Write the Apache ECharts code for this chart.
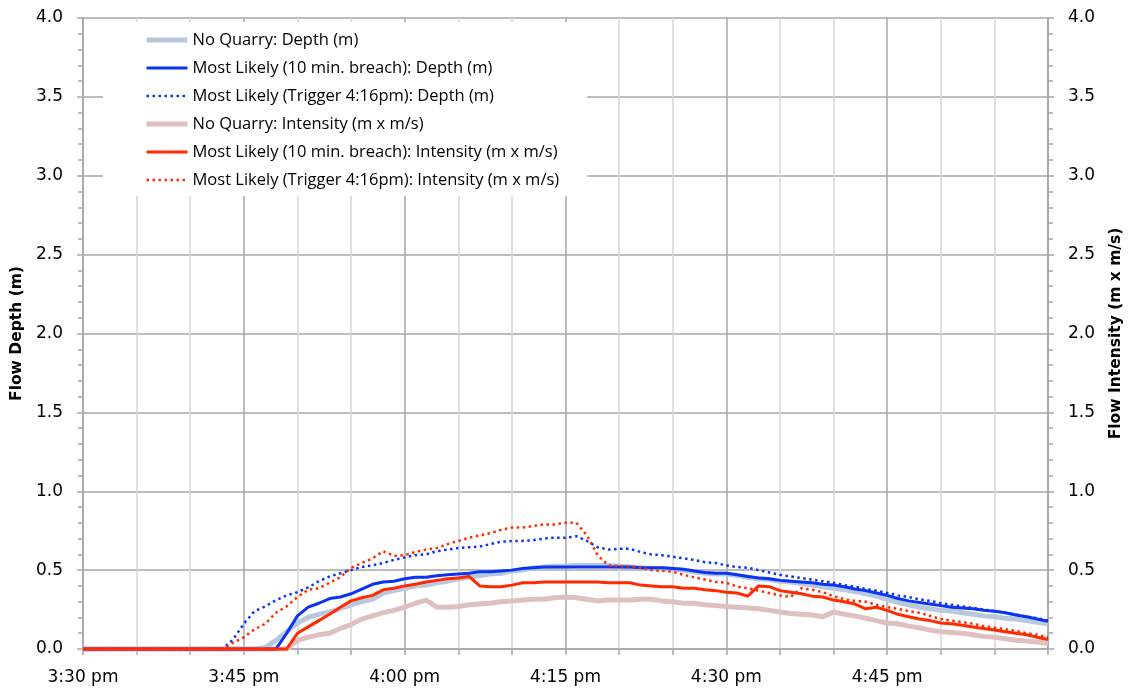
<!DOCTYPE html>
<html>
<head>
<meta charset="utf-8">
<script src="https://cdn.jsdelivr.net/npm/echarts@6/dist/echarts.min.js"></script>
<style>
  html, body { margin: 0; padding: 0; background: #ffffff; }
  #chart { width: 1132px; height: 690px; }
</style>
</head>
<body>
<div id="chart"></div>
<script>
// Minutes after 3:30 pm, one sample per minute
const minutes = [
  0, 1, 2, 3, 4, 5, 6, 7, 8, 9, 10, 11, 12, 13, 14, 15, 16, 17, 18, 19,
  20, 21, 22, 23, 24, 25, 26, 27, 28, 29, 30, 31, 32, 33, 34, 35, 36, 37, 38, 39,
  40, 41, 42, 43, 44, 45, 46, 47, 48, 49, 50, 51, 52, 53, 54, 55, 56, 57, 58, 59,
  60, 61, 62, 63, 64, 65, 66, 67, 68, 69, 70, 71, 72, 73, 74, 75, 76, 77, 78, 79,
  80, 81, 82, 83, 84, 85, 86, 87, 88, 89, 90
];

// Tick labels every 15 minutes (the 5:00 pm end tick carries no label)
const timeTicks = [0, 15, 30, 45, 60, 75, 90];
const timeLabels = ['3:30 pm', '3:45 pm', '4:00 pm', '4:15 pm', '4:30 pm', '4:45 pm', ''];

const seriesNames = [
  'No Quarry: Depth (m)',
  'Most Likely (10 min. breach): Depth (m)',
  'Most Likely (Trigger 4:16pm): Depth (m)',
  'No Quarry: Intensity (m x m/s)',
  'Most Likely (10 min. breach): Intensity (m x m/s)',
  'Most Likely (Trigger 4:16pm): Intensity (m x m/s)'
];

// Flow depth (m)
const noQuarryDepth = [
  0, 0, 0, 0, 0, 0, 0, 0, 0, 0, 0, 0, 0, 0, 0, 0, 0, 0.01, 0.055, 0.11,
  0.165, 0.20, 0.22, 0.235, 0.255, 0.28, 0.30, 0.315, 0.355, 0.37, 0.385, 0.40, 0.405, 0.42, 0.43, 0.445, 0.455, 0.465, 0.475, 0.48,
  0.495, 0.50, 0.515, 0.52, 0.525, 0.525, 0.53, 0.53, 0.53, 0.53, 0.525, 0.52, 0.515, 0.51, 0.51, 0.505, 0.50, 0.49, 0.48, 0.475,
  0.475, 0.465, 0.455, 0.445, 0.44, 0.43, 0.425, 0.415, 0.405, 0.395, 0.385, 0.375, 0.365, 0.35, 0.335, 0.315, 0.295, 0.28, 0.265, 0.255,
  0.245, 0.24, 0.23, 0.22, 0.21, 0.205, 0.195, 0.19, 0.18, 0.17, 0.16
];
const likelyDepth = [
  0, 0, 0, 0, 0, 0, 0, 0, 0, 0, 0, 0, 0, 0, 0, 0, 0, 0, 0, 0.10,
  0.21, 0.265, 0.29, 0.32, 0.33, 0.35, 0.38, 0.41, 0.425, 0.43, 0.445, 0.455, 0.455, 0.465, 0.47, 0.475, 0.48, 0.49, 0.49, 0.495,
  0.50, 0.51, 0.515, 0.52, 0.52, 0.52, 0.52, 0.52, 0.52, 0.52, 0.52, 0.52, 0.515, 0.515, 0.515, 0.51, 0.505, 0.495, 0.485, 0.48,
  0.48, 0.47, 0.46, 0.45, 0.445, 0.435, 0.43, 0.425, 0.42, 0.41, 0.405, 0.395, 0.38, 0.37, 0.355, 0.34, 0.32, 0.305, 0.295, 0.285,
  0.275, 0.265, 0.26, 0.255, 0.245, 0.24, 0.23, 0.215, 0.205, 0.19, 0.175
];
const triggerDepth = [
  0, 0, 0, 0, 0, 0, 0, 0, 0, 0, 0, 0, 0, 0, 0.06, 0.16, 0.24, 0.27, 0.31, 0.34,
  0.36, 0.39, 0.43, 0.46, 0.48, 0.50, 0.52, 0.53, 0.545, 0.565, 0.58, 0.595, 0.60, 0.62, 0.63, 0.64, 0.645, 0.65, 0.665, 0.68,
  0.685, 0.685, 0.69, 0.70, 0.705, 0.705, 0.715, 0.685, 0.645, 0.63, 0.635, 0.635, 0.615, 0.60, 0.595, 0.585, 0.575, 0.565, 0.55, 0.545,
  0.53, 0.52, 0.515, 0.50, 0.485, 0.47, 0.46, 0.45, 0.44, 0.43, 0.42, 0.405, 0.395, 0.38, 0.37, 0.355, 0.34, 0.33, 0.315, 0.305,
  0.29, 0.28, 0.27, 0.26, 0.25, 0.24, 0.23, 0.22, 0.205, 0.195, 0.18
];

// Flow intensity (m x m/s)
const noQuarryIntensity = [
  0, 0, 0, 0, 0, 0, 0, 0, 0, 0, 0, 0, 0, 0, 0, 0, 0, 0, 0, 0,
  0.055, 0.075, 0.09, 0.10, 0.13, 0.155, 0.19, 0.21, 0.23, 0.245, 0.265, 0.29, 0.31, 0.265, 0.265, 0.27, 0.28, 0.285, 0.29, 0.30,
  0.305, 0.31, 0.315, 0.315, 0.325, 0.33, 0.325, 0.315, 0.305, 0.31, 0.31, 0.31, 0.315, 0.315, 0.305, 0.30, 0.29, 0.29, 0.28, 0.275,
  0.27, 0.265, 0.26, 0.255, 0.245, 0.235, 0.225, 0.22, 0.215, 0.205, 0.235, 0.22, 0.21, 0.195, 0.18, 0.165, 0.16, 0.145, 0.135, 0.12,
  0.11, 0.105, 0.10, 0.09, 0.08, 0.075, 0.065, 0.055, 0.05, 0.045, 0.035
];
const likelyIntensity = [
  0, 0, 0, 0, 0, 0, 0, 0, 0, 0, 0, 0, 0, 0, 0, 0, 0, 0, 0, 0,
  0.10, 0.14, 0.18, 0.22, 0.265, 0.305, 0.325, 0.34, 0.375, 0.385, 0.40, 0.41, 0.425, 0.435, 0.445, 0.45, 0.46, 0.40, 0.395, 0.395,
  0.405, 0.42, 0.42, 0.425, 0.425, 0.425, 0.425, 0.425, 0.425, 0.42, 0.42, 0.42, 0.405, 0.40, 0.395, 0.395, 0.385, 0.385, 0.375, 0.37,
  0.36, 0.355, 0.335, 0.40, 0.395, 0.37, 0.36, 0.35, 0.335, 0.33, 0.31, 0.30, 0.285, 0.255, 0.265, 0.245, 0.22, 0.205, 0.19, 0.18,
  0.165, 0.16, 0.15, 0.14, 0.13, 0.12, 0.11, 0.10, 0.09, 0.075, 0.06
];
const triggerIntensity = [
  0, 0, 0, 0, 0, 0, 0, 0, 0, 0, 0, 0, 0, 0, 0.04, 0.075, 0.125, 0.16, 0.23, 0.27,
  0.33, 0.375, 0.385, 0.42, 0.455, 0.515, 0.545, 0.575, 0.62, 0.59, 0.595, 0.615, 0.63, 0.64, 0.665, 0.685, 0.705, 0.72, 0.735, 0.755,
  0.77, 0.77, 0.78, 0.79, 0.79, 0.80, 0.80, 0.72, 0.595, 0.53, 0.525, 0.525, 0.515, 0.50, 0.495, 0.49, 0.47, 0.455, 0.44, 0.425,
  0.42, 0.395, 0.385, 0.37, 0.355, 0.34, 0.33, 0.385, 0.375, 0.36, 0.335, 0.315, 0.305, 0.30, 0.28, 0.265, 0.255, 0.24, 0.23, 0.21,
  0.19, 0.18, 0.17, 0.16, 0.145, 0.135, 0.125, 0.115, 0.10, 0.09, 0.075
];

const pairs = (vals) => minutes.map((m, i) => [m, vals[i]]);

const MAJOR = '#a6a6a6';
const MINOR = '#d6d6d6';
const TICK_FONT = { fontFamily: 'DejaVu Sans', fontSize: 17, color: '#000' };
const TITLE_FONT = { fontFamily: 'DejaVu Sans', fontSize: 15.5, fontWeight: 'bold', color: '#000' };

function lineSeries(name, vals, axis, color, width, type, z) {
  return {
    name: name,
    type: 'line',
    yAxisIndex: axis,
    data: pairs(vals),
    symbol: 'none',
    clip: false,
    z: z,
    lineStyle: { color: color, width: width, type: type, cap: 'butt', join: 'round' },
    itemStyle: { color: color },
    emphasis: { disabled: true }
  };
}

function depthAxis(position, showGrid, nameGap) {
  return {
    type: 'value',
    position: position,
    min: 0,
    max: 4,
    interval: 0.5,
    name: position === 'left' ? 'Flow Depth (m)' : 'Flow Intensity (m x m/s)',
    nameLocation: 'middle',
    nameRotate: 90,
    nameGap: nameGap,
    nameTextStyle: TITLE_FONT,
    axisLine: { show: true, lineStyle: { color: MAJOR, width: 1.5 } },
    axisTick: { show: true, length: 6, lineStyle: { color: MAJOR, width: 1.5 } },
    minorTick: { show: true, splitNumber: 5, length: 5, lineStyle: { color: MAJOR, width: 1.5 } },
    axisLabel: Object.assign({ margin: 20, formatter: (v) => v.toFixed(1) }, TICK_FONT),
    splitLine: { show: showGrid, lineStyle: { color: MAJOR, width: 1.5 } },
    minorSplitLine: { show: false }
  };
}

const chart = echarts.init(document.getElementById('chart'), null, { renderer: 'canvas' });

chart.setOption({
  animation: false,
  backgroundColor: '#ffffff',
  grid: { left: 83, right: 83, top: 18, bottom: 41, containLabel: false },
  legend: {
    orient: 'vertical',
    left: 103,
    top: 22,
    padding: [9, 28, 7, 41],
    backgroundColor: '#ffffff',
    itemWidth: 41,
    itemHeight: 18,
    itemGap: 10,
    selectedMode: false,
    itemStyle: { opacity: 0 },
    lineStyle: { width: 'inherit', type: 'inherit' },
    textStyle: { fontFamily: 'Open Sans', fontSize: 16.5, color: '#000', lineHeight: 18 },
    data: seriesNames
  },
  xAxis: {
    type: 'value',
    min: 0,
    max: 90,
    interval: 15,
    axisLine: { show: true, onZero: false, lineStyle: { color: MAJOR, width: 1.5 } },
    axisTick: { show: true, length: 6, lineStyle: { color: MAJOR, width: 1.5 } },
    minorTick: { show: true, splitNumber: 3, length: 6, lineStyle: { color: MAJOR, width: 1.5 } },
    axisLabel: Object.assign({
      margin: 20,
      showMaxLabel: false,
      formatter: (v) => {
        const k = timeTicks.indexOf(v);
        return k >= 0 ? timeLabels[k] : '';
      }
    }, TICK_FONT),
    splitLine: { show: true, lineStyle: { color: MAJOR, width: 1.5 } },
    minorSplitLine: { show: true, lineStyle: { color: MINOR, width: 1.5 } }
  },
  yAxis: [depthAxis('left', true, 57), depthAxis('right', false, 60)],
  series: [
    lineSeries(seriesNames[0], noQuarryDepth, 0, '#b9c9dd', 5, 'solid', 2),
    lineSeries(seriesNames[1], likelyDepth, 0, '#0a34f5', 3, 'solid', 4),
    lineSeries(seriesNames[2], triggerDepth, 0, '#0a34f5', 2.5, [2.5, 3.5], 5),
    lineSeries(seriesNames[3], noQuarryIntensity, 1, '#dfc0c0', 5, 'solid', 3),
    lineSeries(seriesNames[4], likelyIntensity, 1, '#ff2a00', 3, 'solid', 6),
    lineSeries(seriesNames[5], triggerIntensity, 1, '#ff2a00', 2.5, [2.5, 3.5], 7)
  ]
});
</script>
</body>
</html>
